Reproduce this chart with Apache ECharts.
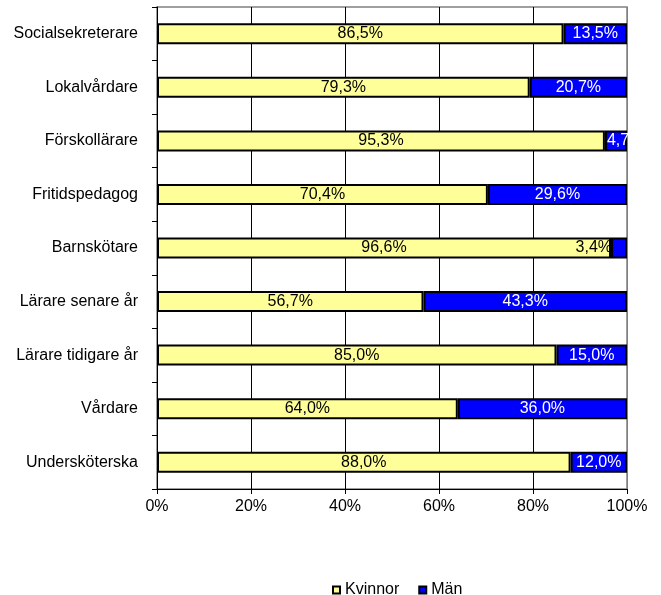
<!DOCTYPE html>
<html>
<head>
<meta charset="utf-8">
<script src="https://cdn.jsdelivr.net/npm/echarts@6/dist/echarts.min.js"></script>
<style>
  html, body { margin: 0; padding: 0; background: #fff; }
  #chart { width: 661px; height: 595px; }
</style>
</head>
<body>
<div id="chart"></div>
<script>
const categories = [
  'Socialsekreterare', 'Lokalvårdare', 'Förskollärare', 'Fritidspedagog',
  'Barnskötare', 'Lärare senare år', 'Lärare tidigare år', 'Vårdare', 'Undersköterska'
];
const kvinnor = [86.5, 79.3, 95.3, 70.4, 96.6, 56.7, 85.0, 64.0, 88.0];
const man = [13.5, 20.7, 4.7, 29.6, 3.4, 43.3, 15.0, 36.0, 12.0];
const xTicks = [0, 20, 40, 60, 80, 100];

const FONT = '"Liberation Sans", Arial, sans-serif';
const pct = v => v.toFixed(1).replace('.', ',') + '%';

// Narrow segments get their labels moved so they stay readable
const manData = man.map((v, i) => {
  const item = { value: v };
  if (categories[i] === 'Förskollärare') {
    item.label = { position: 'insideLeft', distance: 2, width: 31, overflow: 'truncate', ellipsis: '' };
  } else if (categories[i] === 'Barnskötare') {
    item.label = { position: 'left', distance: -1, color: '#000' };
  }
  return item;
});

const chart = echarts.init(document.getElementById('chart'), null, { renderer: 'canvas' });
chart.setOption({
  animation: false,
  textStyle: { fontFamily: FONT },
  grid: {
    left: 157, right: 34, top: 7, bottom: 106,
    show: true, borderColor: '#808080', borderWidth: 1.5, backgroundColor: '#fff'
  },
  legend: {
    left: 327, top: 577,
    itemWidth: 7, itemHeight: 7, itemGap: 19,
    icon: 'rect',
    textStyle: { fontFamily: FONT, fontSize: 16, color: '#000' },
    data: ['Kvinnor', 'Män']
  },
  xAxis: {
    type: 'value', min: xTicks[0], max: xTicks[xTicks.length - 1], interval: 20,
    axisLine: { show: true, lineStyle: { color: '#000', width: 1 } },
    axisTick: { show: true, length: 5, lineStyle: { color: '#000' } },
    axisLabel: {
      margin: 10, fontSize: 16, color: '#000', fontFamily: FONT,
      formatter: v => v + '%'
    },
    splitLine: { show: true, lineStyle: { color: ['#808080', '#000', '#000', '#000', '#000', '#808080'], width: 1 } }
  },
  yAxis: {
    type: 'category', data: categories, inverse: true,
    axisLine: { show: true, lineStyle: { color: '#000', width: 1 } },
    axisTick: { show: true, length: 5, lineStyle: { color: '#000' } },
    axisLabel: { margin: 19, fontSize: 16, color: '#000', fontFamily: FONT }
  },
  series: [
    {
      name: 'Kvinnor', type: 'bar', stack: 'total', barWidth: 21,
      data: kvinnor,
      itemStyle: { color: '#FFFF99', borderColor: '#000', borderWidth: 2 },
      label: {
        show: true, position: 'inside', fontSize: 16, color: '#000', fontFamily: FONT,
        formatter: p => pct(p.value)
      }
    },
    {
      name: 'Män', type: 'bar', stack: 'total', barWidth: 21,
      data: manData,
      itemStyle: { color: '#0000FF', borderColor: '#000', borderWidth: 2 },
      label: {
        show: true, position: 'inside', fontSize: 16, color: '#fff', fontFamily: FONT,
        formatter: p => pct(p.value)
      }
    }
  ]
});
</script>
</body>
</html>
